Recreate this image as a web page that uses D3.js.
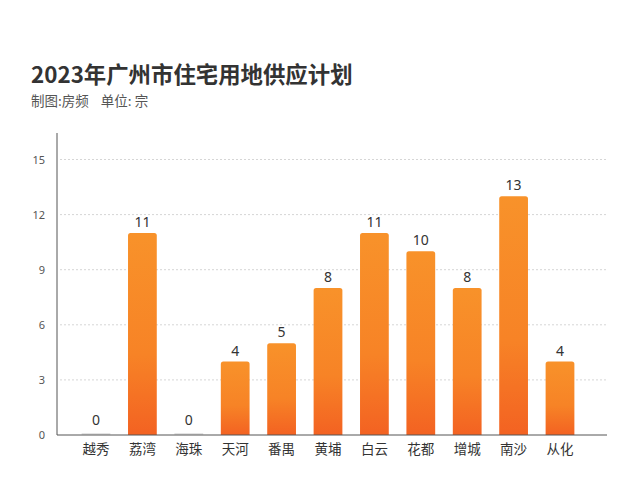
<!DOCTYPE html>
<html><head><meta charset="utf-8">
<script src="https://cdn.jsdelivr.net/npm/d3@7"></script>
<style>body{margin:0;background:#fff;}svg{display:block;font-family:"Noto Sans CJK SC","Noto Sans",sans-serif;}</style>
</head><body>
<script>
const categories = ["越秀","荔湾","海珠","天河","番禺","黄埔","白云","花都","增城","南沙","从化"];
const values = [0,11,0,4,5,8,11,10,8,13,4];
const yTicks = [0,3,6,9,12,15];
const title = "2023年广州市住宅用地供应计划";
const subtitle = "制图:房频\u00a0\u00a0\u00a0\u00a0单位: 宗";

const W=640,H=488;
const svg=d3.select("body").append("svg").attr("width",W).attr("height",H);
const defs=svg.append("defs");
const grad=defs.append("linearGradient").attr("id","g").attr("x1",0).attr("y1",0).attr("x2",0).attr("y2",1);
grad.append("stop").attr("offset","0%").attr("stop-color","#F8922A");
grad.append("stop").attr("offset","60%").attr("stop-color","#F78326");
grad.append("stop").attr("offset","100%").attr("stop-color","#F36222");

svg.append("text").attr("x",31).attr("y",83).attr("font-size",22.4).attr("font-weight","bold").attr("fill","#333").text(title);
svg.append("text").attr("x",31).attr("y",106).attr("font-size",13.5).attr("fill","#555").text(subtitle);

const x=d3.scaleBand().domain(categories).range([72.8,583.2]).paddingInner(0.38).paddingOuter(0.19);
const y=d3.scaleLinear().domain([0,15]).range([435,159.5]);
const left=57,right=607;

// grid
svg.append("g").selectAll("line").data(yTicks.filter(d=>d>0)).join("line")
  .attr("x1",left+3).attr("x2",right).attr("y1",d=>y(d)).attr("y2",d=>y(d))
  .attr("stroke","#d6d6d6").attr("stroke-dasharray","2,2").attr("stroke-width",1);

// y axis
const ya=svg.append("g").attr("transform",`translate(${left},0)`).call(d3.axisLeft(y).tickValues(yTicks).tickSize(0).tickPadding(12));
ya.select(".domain").attr("stroke","#555").attr("d",`M0,133V${y(0)}`);
ya.selectAll("text").attr("font-size",11).attr("fill","#555").attr("font-family","'Noto Sans',sans-serif");

// bars
const bw=x.bandwidth();
svg.append("g").selectAll("path").data(values.map((v,i)=>({c:categories[i],v}))).join("path")
  .attr("d",d=>{
    if(d.v===0){return "";}
    const x0=x(d.c),y0=y(d.v),r=2.5;
    return `M${x0},${y(0)}V${y0+r}Q${x0},${y0} ${x0+r},${y0}H${x0+bw-r}Q${x0+bw},${y0} ${x0+bw},${y0+r}V${y(0)}Z`;
  }).attr("fill","url(#g)");
// zero bars
svg.append("g").selectAll("rect").data(values.map((v,i)=>({c:categories[i],v})).filter(d=>d.v===0)).join("rect")
  .attr("x",d=>x(d.c)).attr("y",y(0)-2).attr("width",bw).attr("height",2).attr("fill","#e4e4e4");

// value labels
svg.append("g").selectAll("text").data(values.map((v,i)=>({c:categories[i],v}))).join("text")
  .attr("x",d=>x(d.c)+bw/2).attr("y",d=>y(d.v)-(d.v===0?10:6)).attr("text-anchor","middle")
  .attr("font-size",14).attr("fill","#333").attr("font-family","'Noto Sans',sans-serif").text(d=>d.v);

// x axis
const xa=svg.append("g").attr("transform",`translate(0,${y(0)})`).call(d3.axisBottom(x).tickSize(0).tickPadding(9));
xa.select(".domain").attr("stroke","#555").attr("d",`M${left},0H${right}`);
xa.selectAll("text").attr("font-size",13.5).attr("fill","#333").attr("font-family","'Noto Sans CJK SC',sans-serif");
</script>
</body></html>
